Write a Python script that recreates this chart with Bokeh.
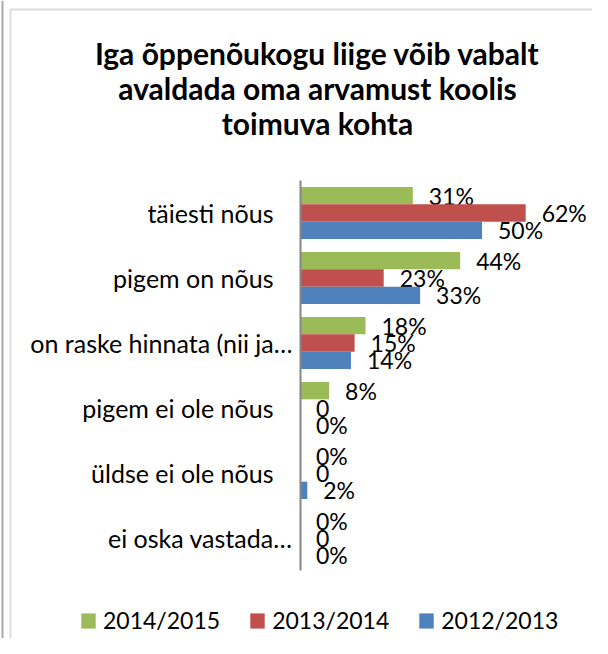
from bokeh.plotting import figure
from bokeh.models import (Range1d, FixedTicker, Label, Legend, LegendItem, ColumnDataSource,
                          Span, BoxAnnotation)
from bokeh.core.properties import value
from bokeh.embed import file_html
from bokeh.resources import INLINE

categories = ["täiesti nõus", "pigem on nõus", "on raske hinnata (nii ja…",
              "pigem ei ole nõus", "üldse ei ole nõus", "ei oska vastada…"]
series_names = ["2014/2015", "2013/2014", "2012/2013"]
values_2014_2015 = [31, 44, 18, 8, 0, 0]
values_2013_2014 = [62, 23, 15, 0, 0, 0]
values_2012_2013 = [50, 33, 14, 0, 2, 0]
labels_2014_2015 = ["31%", "44%", "18%", "8%", "0%", "0%"]
labels_2013_2014 = ["62%", "23%", "15%", "0", "0", "0"]
labels_2012_2013 = ["50%", "33%", "14%", "0%", "2%", "0%"]
title_lines = ["Iga õppenõukogu liige võib vabalt",
               "avaldada oma arvamust koolis",
               "toimuva kohta"]
colors = ["#9BBB59", "#C0504D", "#4F81BD"]

FONT = "Lato"
W, H = 592, 638
L = 0                  # frame left (y-axis panel width)
AXIS_X = 299.5         # pixel position of the value axis zero
PX_PER_PCT = 3.64
CAT_PX = 65.0
FIRST_CAT_Y = 212.5

x_start = (L - AXIS_X) / PX_PER_PCT
x_end = (W - AXIS_X) / PX_PER_PCT
y_top = -FIRST_CAT_Y / CAT_PX
y_bottom = (H - FIRST_CAT_Y) / CAT_PX

p = figure(width=W, height=H, output_backend="svg", toolbar_location=None, title=None,
           x_range=Range1d(x_start, x_end), y_range=Range1d(y_bottom, y_top),
           min_border_left=0, min_border_right=0, min_border_top=0, min_border_bottom=0)
p.outline_line_color = None
p.xgrid.visible = False
p.ygrid.visible = False
p.xaxis.visible = False
ya = p.yaxis[0]
ya.fixed_location = 0
ya.bounds = (-0.5, len(categories) - 0.5)
ya.ticker = FixedTicker(ticks=[])
ya.axis_line_color = "#868686"
ya.axis_line_width = 2
ya.major_tick_line_color = None
ya.minor_tick_line_color = None
ya.major_tick_out = 0
ya.major_tick_in = 0
ya.minor_tick_out = 0
ya.major_label_standoff = 0
ya.major_label_text_font_size = "0px"

idx = list(range(len(categories)))
bar_h = 0.8 / 3
offsets = [-bar_h, 0.0, bar_h]
all_values = [values_2014_2015, values_2013_2014, values_2012_2013]
all_labels = [labels_2014_2015, labels_2013_2014, labels_2012_2013]

items = []
for name, vals, labs, col, off in zip(series_names, all_values, all_labels, colors, offsets):
    src = ColumnDataSource(dict(y=[i + off for i in idx], val=vals, lab=labs))
    r = p.hbar(y="y", right="val", left=0, height=bar_h, source=src,
               fill_color=col, line_color=None)
    p.text(x="val", y="y", text="lab", source=src, x_offset=16,
           text_baseline="middle", text_align="left",
           text_font=value(FONT), text_font_size="23px", text_color="#000000")
    items.append(LegendItem(label=name, renderers=[r]))

# category labels (value-axis side)
cat_src = ColumnDataSource(dict(
    y=idx, x=[0] * len(categories), cat=categories,
    off=[-7.5 if c.endswith("…") else -26.5 for c in categories]))
p.text(x="x", y="y", text="cat", x_offset="off", source=cat_src,
       text_align="right", text_baseline="middle",
       text_font=value(FONT), text_font_size="25px", text_color="#000000")

# title
for line, base in zip(title_lines, [52, 87, 122]):
    p.add_layout(Label(x=317 - L, y=H - base, x_units="screen", y_units="screen", text=line,
                       text_align="center", text_baseline="alphabetic",
                       text_font=FONT, text_font_style="bold",
                       text_font_size="30px", text_color="#000000"))

legend = Legend(items=items, orientation="horizontal", location=(79 - L, 4),
                glyph_width=18, glyph_height=19, label_standoff=6, spacing=28,
                padding=0, margin=0, border_line_color=None, background_fill_alpha=0,
                label_text_font=FONT, label_text_font_size="23px", label_text_color="#000000")
p.add_layout(legend, "center")

# chart-area frame lines
p.add_layout(Span(location=2 - L, location_units="screen", dimension="height",
                  line_color="#a8a8a8", line_width=2))
p.add_layout(BoxAnnotation(left=10 - L, right=W + 50, top=H - 9, bottom=-50,
                           left_units="screen", right_units="screen",
                           top_units="screen", bottom_units="screen",
                           fill_alpha=0, line_color="#8c8c8c", line_width=2))

open("out.html", "w").write(file_html(p, INLINE))
